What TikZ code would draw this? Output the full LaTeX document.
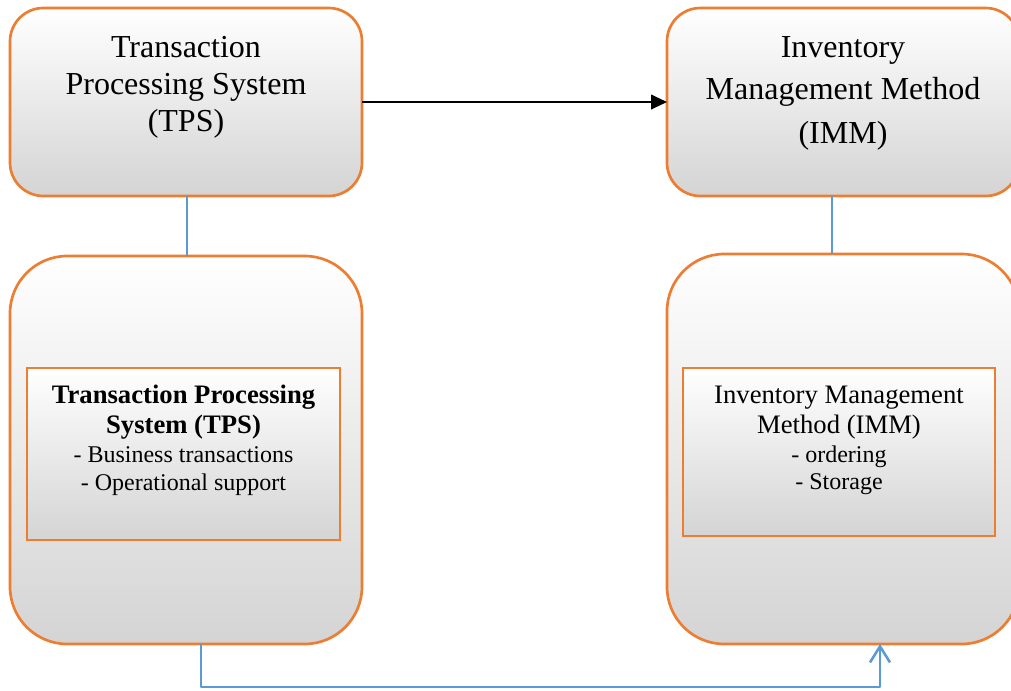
\documentclass[tikz,border=0pt]{standalone}
\usepackage{fontspec}
\setmainfont{Liberation Serif}
\usetikzlibrary{arrows.meta}
\definecolor{boxorange}{RGB}{237,125,49}
\definecolor{shgray}{RGB}{212,212,212}
\definecolor{linkblue}{RGB}{91,155,213}
\tikzset{
  shadebox/.style={draw=boxorange, line width=2pt, inner sep=0pt, outer sep=0pt,
    top color=white, middle color=white, bottom color=shgray},
  topbox/.style={shadebox, rounded corners=25pt, minimum width=264pt, minimum height=141pt},
  bigbox/.style={shadebox, rounded corners=43pt, minimum width=264pt},
  innerbox/.style={shadebox, rounded corners=0pt},
  ttext/.style={anchor=base, inner sep=0pt, font=\fontsize{24}{28}\selectfont},
  htext/.style={anchor=base, inner sep=0pt, font=\fontsize{20}{24}\selectfont},
  stext/.style={anchor=base, inner sep=0pt, font=\fontsize{18}{22}\selectfont},
  blackarrow/.style={line width=1.5pt, -{Triangle[length=12pt,width=11pt]}},
  bluelink/.style={draw=linkblue, line width=1.9pt},
  blueflow/.style={draw=linkblue, line width=1.9pt, line join=round, -{Straight Barb[length=12pt,width=15pt]}}
}
\begin{document}
\begin{tikzpicture}[x=0.75pt,y=-0.75pt]
\useasboundingbox (0,0) rectangle (1011,690);
\clip (0,0) rectangle (1011,690);

% boxes
\node[topbox] (tl) at (186,102) {};
\node[topbox] (tr) at (843,102) {};
\node[bigbox, minimum height=291pt] (bl) at (186,450) {};
\node[bigbox, minimum height=292.5pt] (br) at (843,449) {};
\node[innerbox, minimum width=234.75pt, minimum height=129pt] (il) at (183.5,454) {};
\node[innerbox, minimum width=234pt, minimum height=126pt] (ir) at (839,452) {};

% top-left text
\node[ttext] (tla) at (186,57) {Transaction};
\node[ttext] (tlb) at (186,94) {Processing System};
\node[ttext] (tlc) at (186,131) {(TPS)};
% top-right text
\node[ttext] (tra) at (843,57) {Inventory};
\node[ttext] (trb) at (843,99) {Management Method};
\node[ttext] (trc) at (843,143) {(IMM)};
% inner left text
\node[htext, font=\fontsize{20}{24}\selectfont\bfseries] (ila) at (183.5,403) {Transaction Processing};
\node[htext, font=\fontsize{20}{24}\selectfont\bfseries] (ilb) at (183.5,433) {System (TPS)};
\node[stext] (ilc) at (183.5,462) {- Business transactions};
\node[stext] (ild) at (183.5,490) {- Operational support};
% inner right text
\node[htext] (ira) at (839,403) {Inventory Management};
\node[htext] (irb) at (839,433) {Method (IMM)};
\node[stext] (irc) at (839,462) {- ordering};
\node[stext] (ird) at (839,489) {- Storage};

% connectors
\draw[blackarrow] (tl.east) -- (tr.west);
\draw[bluelink] ([xshift=0.75pt]tl.south) -- ([xshift=0.75pt]bl.north);
\draw[bluelink] ([xshift=-8.25pt]tr.south) -- ([xshift=-8.25pt]br.north);
\draw[blueflow] ([xshift=11.25pt]bl.south) -- ++(0,43) -| ([xshift=27.75pt]br.south);
\end{tikzpicture}
\end{document}
